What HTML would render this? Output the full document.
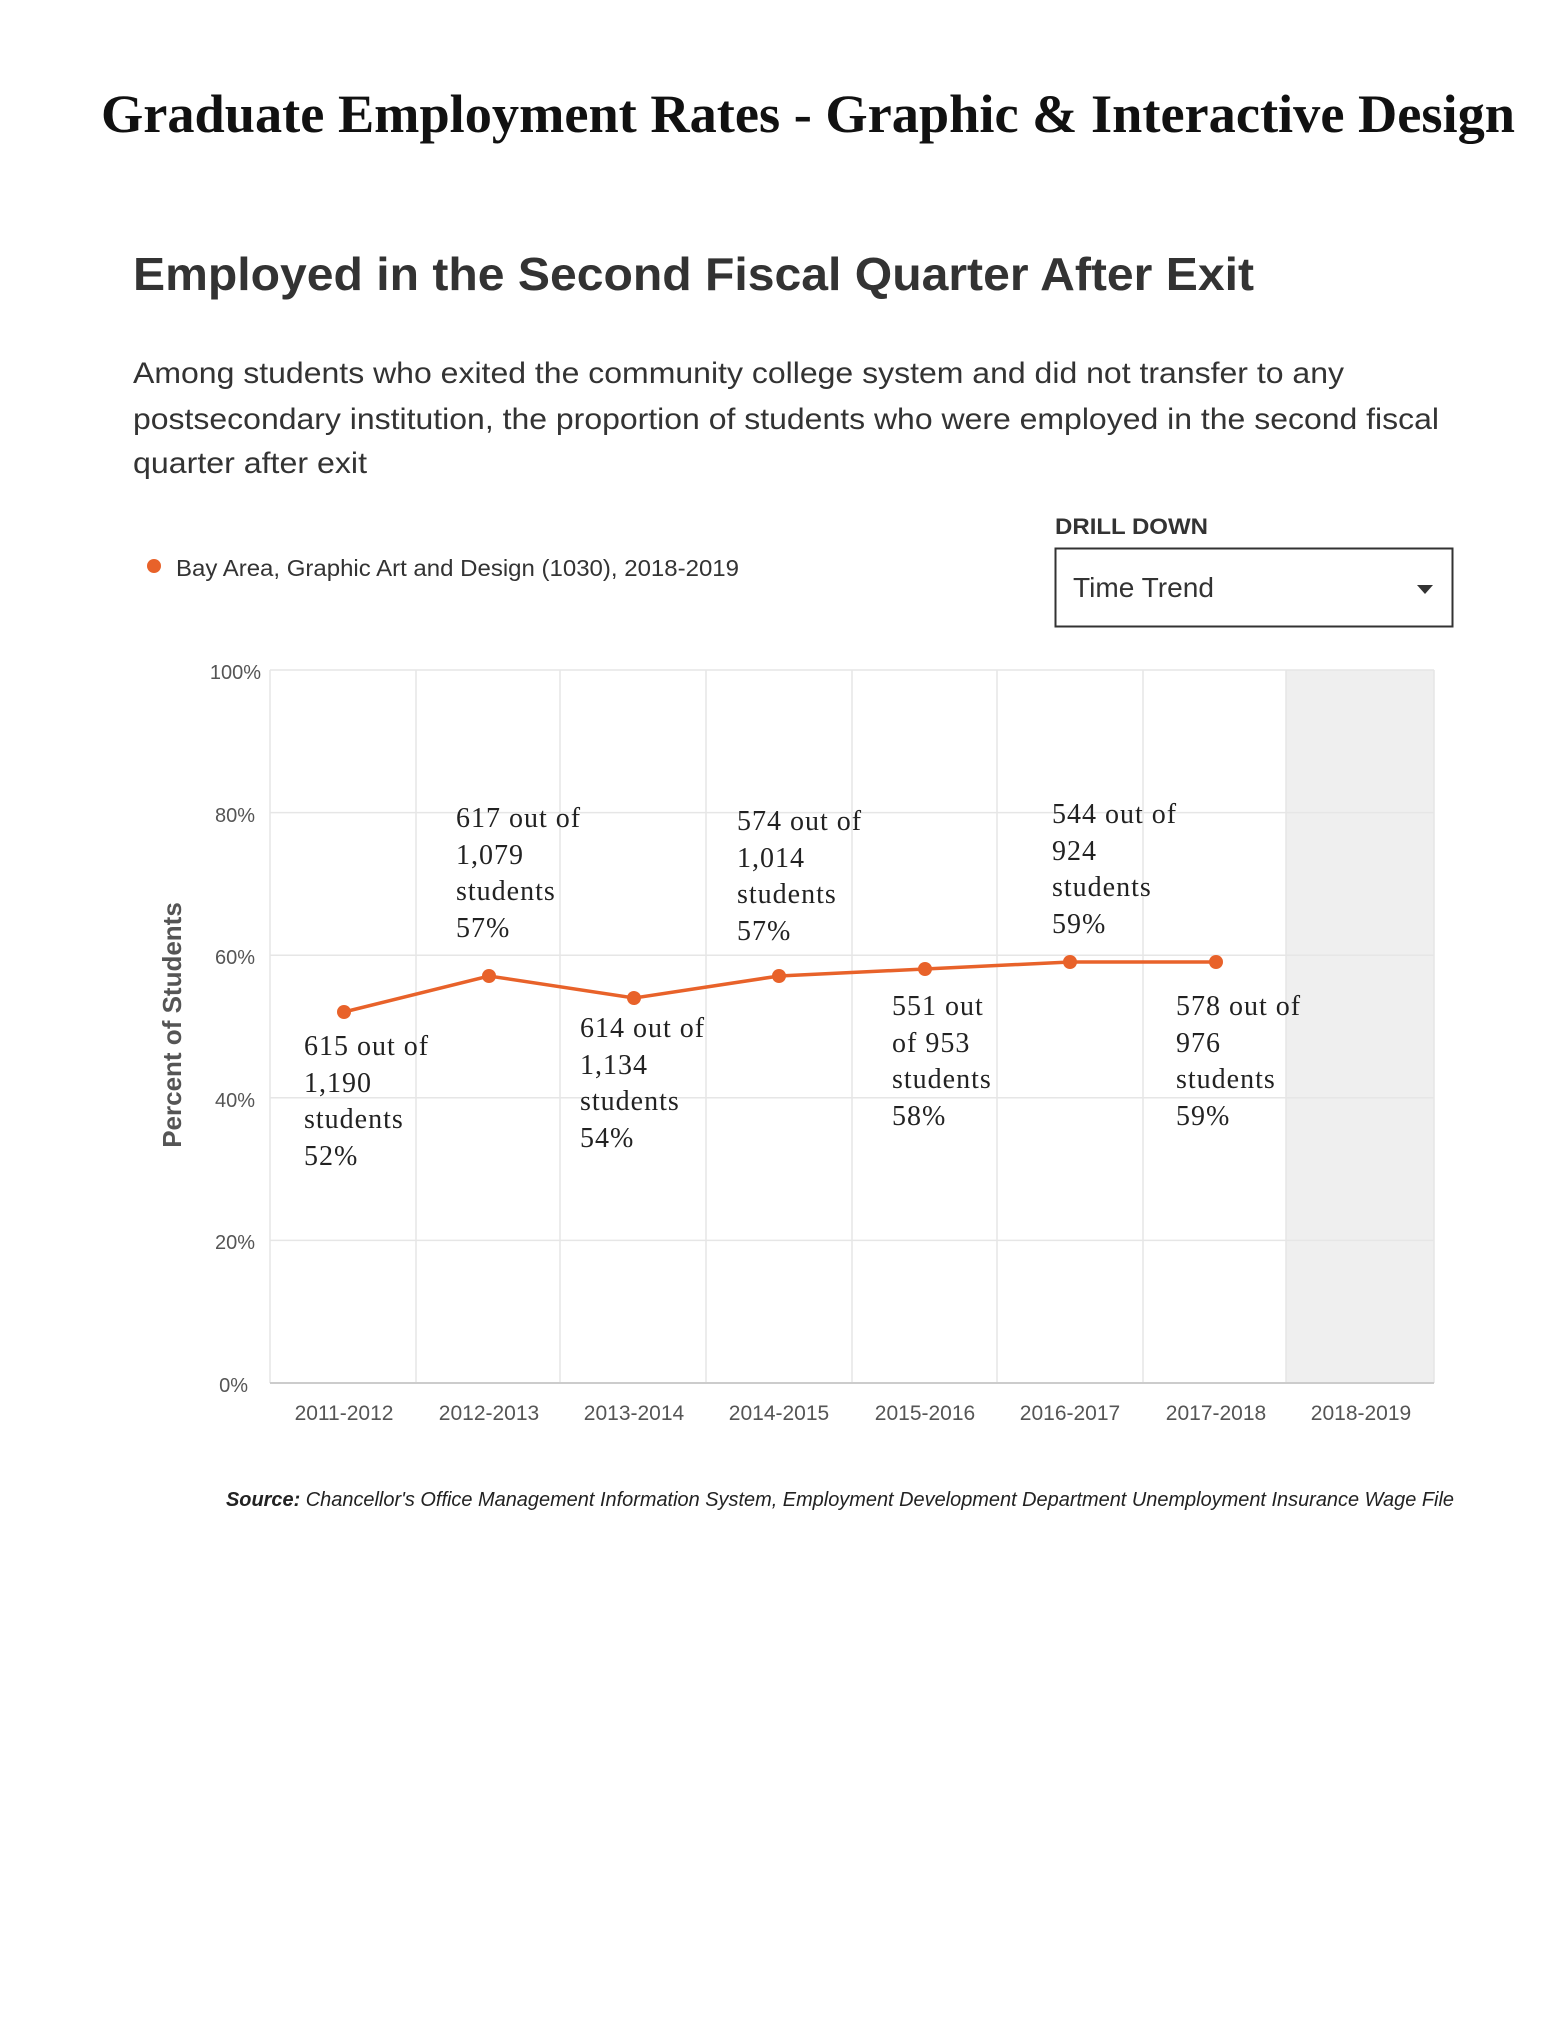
<!DOCTYPE html>
<html><head><meta charset="utf-8"><style>html,body{margin:0;padding:0;background:#fff}svg{display:block}</style></head>
<body>
<svg width="1564" height="2024" viewBox="0 0 1564 2024" xmlns="http://www.w3.org/2000/svg">
<rect width="1564" height="2024" fill="#fff"/>
<text x="101" y="132" font-family="Liberation Serif, serif" font-weight="bold" font-size="54" fill="#111" textLength="1414" lengthAdjust="spacingAndGlyphs">Graduate Employment Rates - Graphic &amp; Interactive Design</text>
<text x="133" y="290" font-family="Liberation Sans, sans-serif" font-weight="bold" font-size="46" fill="#333" textLength="1121" lengthAdjust="spacingAndGlyphs">Employed in the Second Fiscal Quarter After Exit</text>
<g font-family="Liberation Sans, sans-serif" font-size="30" fill="#333">
<text x="133" y="383" textLength="1211" lengthAdjust="spacingAndGlyphs">Among students who exited the community college system and did not transfer to any</text>
<text x="133" y="429" textLength="1306" lengthAdjust="spacingAndGlyphs">postsecondary institution, the proportion of students who were employed in the second fiscal</text>
<text x="133" y="473" textLength="234" lengthAdjust="spacingAndGlyphs">quarter after exit</text>
</g>
<text x="1055" y="534" font-family="Liberation Sans, sans-serif" font-weight="bold" font-size="22" fill="#333" textLength="153" lengthAdjust="spacingAndGlyphs">DRILL DOWN</text>
<rect x="1055.5" y="548.5" width="397" height="78" fill="#fff" stroke="#333" stroke-width="2"/>
<text x="1073" y="597" font-family="Liberation Sans, sans-serif" font-size="28" fill="#333" textLength="141" lengthAdjust="spacingAndGlyphs">Time Trend</text>
<polygon points="1417,585 1433,585 1425,594" fill="#333"/>
<circle cx="154" cy="566" r="7" fill="#e8622a"/>
<text x="176" y="576" font-family="Liberation Sans, sans-serif" font-size="23" fill="#333" textLength="563" lengthAdjust="spacingAndGlyphs">Bay Area, Graphic Art and Design (1030), 2018-2019</text>
<rect x="1286" y="670" width="148" height="713" fill="#efefef"/>
<g stroke="#e6e6e6" stroke-width="1.5">
<line x1="270" y1="670" x2="1434" y2="670"/>
<line x1="270" y1="812.6" x2="1434" y2="812.6"/>
<line x1="270" y1="955.2" x2="1434" y2="955.2"/>
<line x1="270" y1="1097.8" x2="1434" y2="1097.8"/>
<line x1="270" y1="1240.4" x2="1434" y2="1240.4"/>
<line x1="270" y1="670" x2="270" y2="1383"/>
<line x1="416" y1="670" x2="416" y2="1383"/>
<line x1="560" y1="670" x2="560" y2="1383"/>
<line x1="706" y1="670" x2="706" y2="1383"/>
<line x1="852" y1="670" x2="852" y2="1383"/>
<line x1="997" y1="670" x2="997" y2="1383"/>
<line x1="1143" y1="670" x2="1143" y2="1383"/>
<line x1="1286" y1="670" x2="1286" y2="1383"/>
<line x1="1434" y1="670" x2="1434" y2="1383"/>
</g>
<line x1="270" y1="1383" x2="1434" y2="1383" stroke="#ccc" stroke-width="2"/>
<g font-family="Liberation Sans, sans-serif" font-size="20" fill="#555" text-anchor="end">
<text x="261" y="679">100%</text>
<text x="255" y="822">80%</text>
<text x="255" y="964">60%</text>
<text x="255" y="1107">40%</text>
<text x="255" y="1249">20%</text>
<text x="248" y="1392">0%</text>
</g>
<g font-family="Liberation Sans, sans-serif" font-size="21" fill="#555" text-anchor="middle">
<text x="344" y="1420">2011-2012</text>
<text x="489" y="1420">2012-2013</text>
<text x="634" y="1420">2013-2014</text>
<text x="779" y="1420">2014-2015</text>
<text x="925" y="1420">2015-2016</text>
<text x="1070" y="1420">2016-2017</text>
<text x="1216" y="1420">2017-2018</text>
<text x="1361" y="1420">2018-2019</text>
</g>
<text transform="translate(181,1025) rotate(-90)" text-anchor="middle" font-family="Liberation Sans, sans-serif" font-weight="bold" font-size="26" fill="#555">Percent of Students</text>
<polyline fill="none" stroke="#e8622a" stroke-width="3.5" points="344,1012 489,976 634,998 779,976 925,969 1070,962 1216,962"/>
<g fill="#e8622a">
<circle cx="344" cy="1012" r="7"/><circle cx="489" cy="976" r="7"/><circle cx="634" cy="998" r="7"/><circle cx="779" cy="976" r="7"/><circle cx="925" cy="969" r="7"/><circle cx="1070" cy="962" r="7"/><circle cx="1216" cy="962" r="7"/>
</g>
<g font-family="Liberation Serif, serif" font-size="28" fill="#222" letter-spacing="1">
<text x="304" y="1055">615 out of</text><text x="304" y="1092">1,190</text><text x="304" y="1128">students</text><text x="304" y="1165">52%</text>
<text x="456" y="827">617 out of</text><text x="456" y="864">1,079</text><text x="456" y="900">students</text><text x="456" y="937">57%</text>
<text x="580" y="1037">614 out of</text><text x="580" y="1074">1,134</text><text x="580" y="1110">students</text><text x="580" y="1147">54%</text>
<text x="737" y="830">574 out of</text><text x="737" y="867">1,014</text><text x="737" y="903">students</text><text x="737" y="940">57%</text>
<text x="892" y="1015">551 out</text><text x="892" y="1052">of 953</text><text x="892" y="1088">students</text><text x="892" y="1125">58%</text>
<text x="1052" y="823">544 out of</text><text x="1052" y="860">924</text><text x="1052" y="896">students</text><text x="1052" y="933">59%</text>
<text x="1176" y="1015">578 out of</text><text x="1176" y="1052">976</text><text x="1176" y="1088">students</text><text x="1176" y="1125">59%</text>
</g>
<text x="226" y="1506" font-family="Liberation Sans, sans-serif" font-style="italic" font-size="20" fill="#222" textLength="1228" lengthAdjust="spacingAndGlyphs"><tspan font-weight="bold">Source:</tspan> Chancellor's Office Management Information System, Employment Development Department Unemployment Insurance Wage File</text>
</svg>
</body></html>
